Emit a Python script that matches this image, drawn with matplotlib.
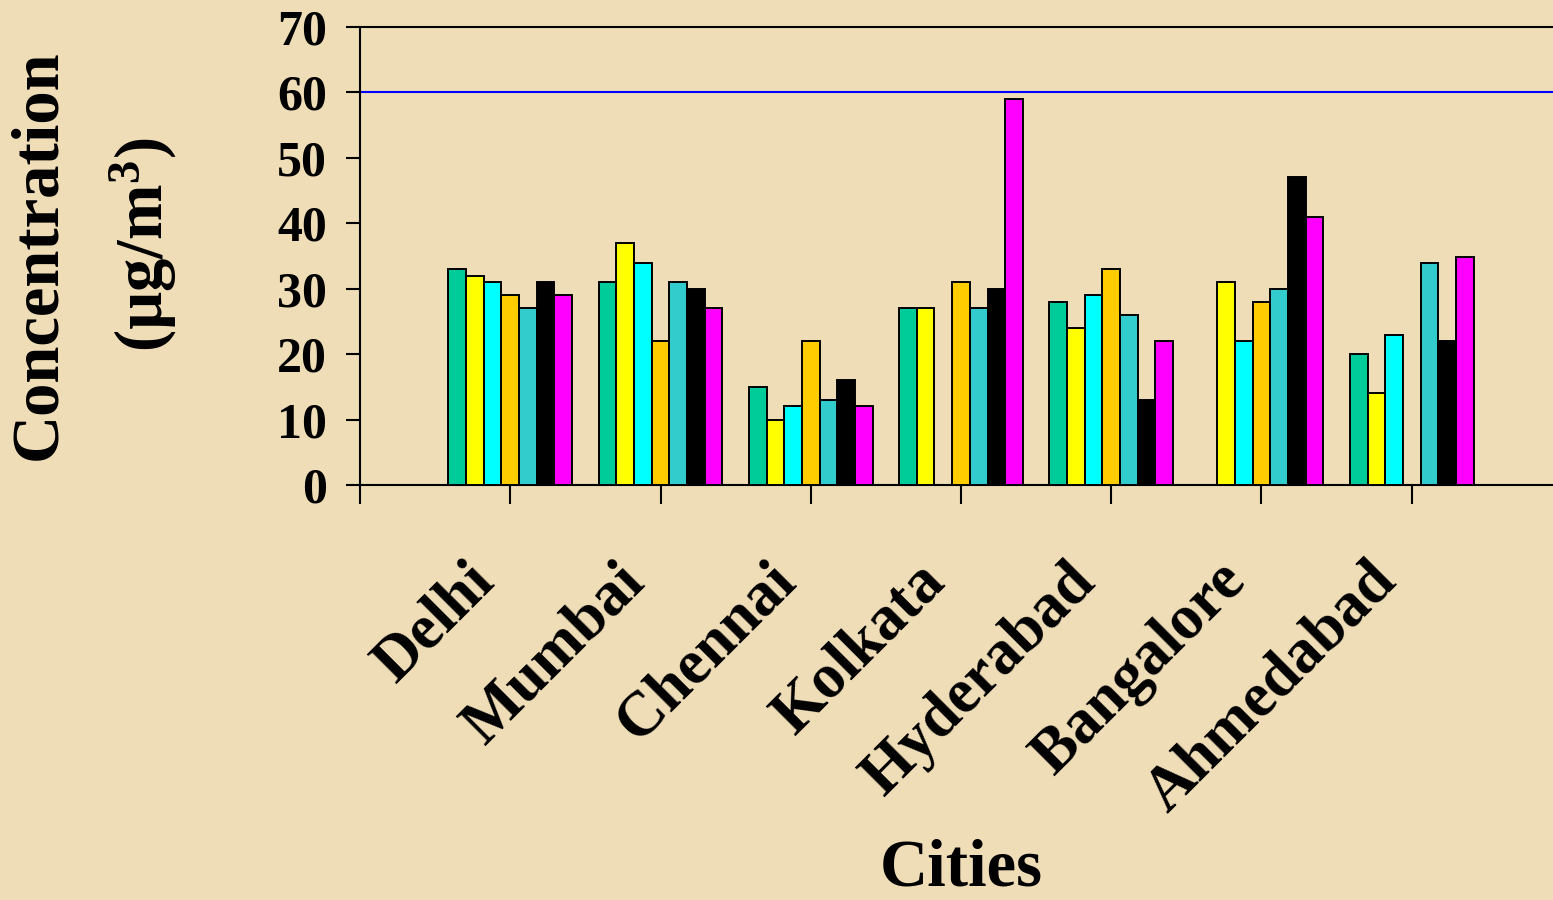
import numpy as np
import matplotlib
matplotlib.use("Agg")
import matplotlib.pyplot as plt

# --- datos ---
cities = ["Delhi", "Mumbai", "Chennai", "Kolkata", "Hyderabad", "Bangalore", "Ahmedabad"]

s1 = [33, 31, 15, 27, 28, None, 20]     # verde
s2 = [32, 37, 10, 27, 24, 31, 14]       # amarillo
s3 = [31, 34, 12, None, 29, 22, 23]     # cian
s4 = [29, 22, 22, 31, 33, 28, None]     # naranja
s5 = [27, 31, 13, 27, 26, 30, 34]       # turquesa
s6 = [31, 30, 16, 30, 13, 47, 22]       # negro
s7 = [29, 27, 12, 59, 22, 41, 34.8]     # magenta

limit = 60
series = [s1, s2, s3, s4, s5, s6, s7]
colors = ["#00CC99", "#FFFF00", "#00FFFF", "#FFCC00", "#33CCCC", "#000000", "#FF00FF"]

plt.rcParams["font.family"] = "Liberation Serif"
plt.rcParams["font.weight"] = "bold"
plt.rcParams["mathtext.fontset"] = "custom"
plt.rcParams["mathtext.rm"] = "Liberation Serif:bold"
plt.rcParams["mathtext.bf"] = "Liberation Serif:bold"
plt.rcParams["mathtext.default"] = "rm"

W, H = 1553, 900
bg = "#EFDDB7"
fig = plt.figure(figsize=(W / 100, H / 100), dpi=100, facecolor=bg)
ax = fig.add_axes([360 / W, 1 - 485 / H, 1202 / W, 458 / H])
ax.set_facecolor("none")

# --- barras ---
bw = 0.1178
for j, (vals, col) in enumerate(zip(series, colors)):
    for i, v in enumerate(vals):
        if v is None:
            continue
        ax.bar(i + 1 + (j - 3) * bw, v, width=bw, color=col,
               edgecolor="black", linewidth=1.4, zorder=3)

ax.axhline(limit, color="#0000FF", linewidth=1.5, zorder=2)

ax.set_xlim(0, 8)
ax.set_ylim(0, 70)
ax.set_yticks(range(0, 71, 10))
ax.set_xticks(range(0, 9))
ax.set_xticklabels([])
ax.tick_params(axis="y", direction="out", length=10, width=1.5, labelsize=36, pad=14)
ax.tick_params(axis="x", direction="out", length=14, width=1.5)
for lab in ax.get_yticklabels():
    lab.set_fontweight("bold")
for side in ["left", "bottom", "top"]:
    ax.spines[side].set_linewidth(1.5)
ax.spines["right"].set_visible(False)

# etiquetas de ciudades giradas
for i, name in enumerate(cities):
    ax.annotate(name, xy=(i + 1, 0), xycoords=("data", "axes fraction"),
                xytext=(-45, -67), textcoords="offset pixels",
                rotation=45, rotation_mode="anchor", ha="right", va="top",
                fontsize=45, fontweight="bold")

fig.text(961 / W, 1 - 885 / H, "Cities", ha="center", va="baseline",
         fontsize=48, fontweight="bold")
fig.text(39 / W, 1 - 255 / H, "Concentration", rotation=90, ha="center", va="center",
         fontsize=48, fontweight="bold")
fig.text(143 / W, 1 - 245 / H, r"(µg/m$^{3}$)", rotation=90, ha="center", va="center",
         fontsize=48, fontweight="bold")

fig.savefig("out.png", dpi=100, facecolor=bg)
